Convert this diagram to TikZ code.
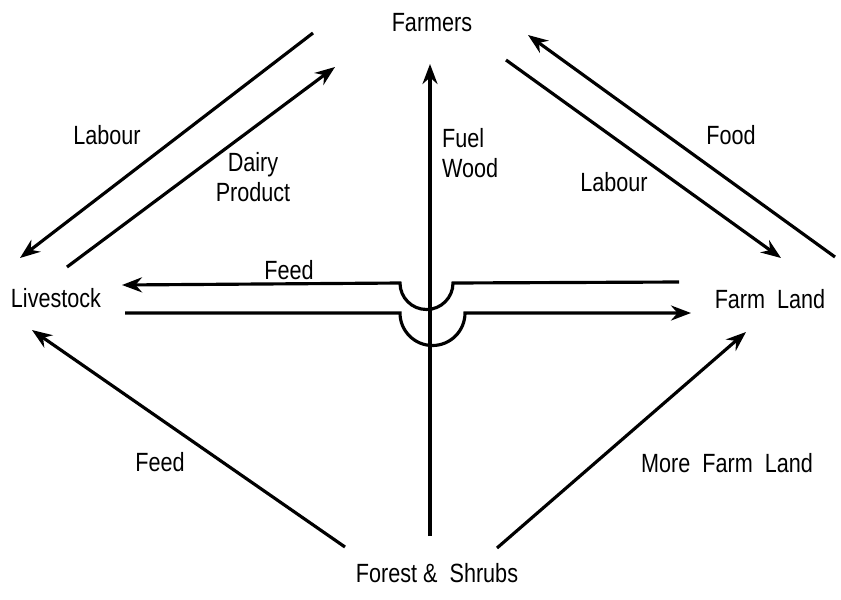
\documentclass[tikz,border=0pt]{standalone}
\usepackage{fontspec}
\setmainfont{Liberation Sans}
\newfontfamily\plotfont[FakeStretch=0.82]{Liberation Sans}
\usetikzlibrary{arrows.meta, positioning}
\tikzstyle{place} = [font=\plotfont\fontsize{15}{17}\selectfont, inner sep=1pt]
\tikzstyle{flowlabel} = [font=\plotfont\fontsize{15}{17}\selectfont, inner sep=1pt, align=center]
\tikzstyle{arrow} = [line width=1.8pt, -{Stealth[length=4mm, width=3mm]}]

\begin{document}
\begin{tikzpicture}[x=0.02cm, y=-0.02cm]
        \useasboundingbox (0,0) rectangle (841,599);

        % places
        \node[place] (farmers) at (432,23) {Farmers};
        \node[place] (livestock) at (56,298) {Livestock};
        \node[place] (farmland) at (770,299) {Farm\ \ Land};
        \node[place] (forest) at (437,573) {Forest \& \ Shrubs};

        % end points of the flows
        \coordinate (labLs) at (313,33);
        \coordinate (labLe) at (20,258);
        \coordinate (dairyS) at (67,267);
        \coordinate (dairyE) at (335,67);
        \coordinate (fuelS) at (430,536);
        \coordinate (fuelE) at (430,64);
        \coordinate (labRs) at (506,60);
        \coordinate (labRe) at (781,258);
        \coordinate (foodS) at (835,257);
        \coordinate (foodE) at (528,35);
        \coordinate (feedTs) at (679,282);
        \coordinate (feedTe) at (122,285);
        \coordinate (feedBs) at (125,313);
        \coordinate (feedBe) at (691,313);
        \coordinate (feedLs) at (345,547);
        \coordinate (feedLe) at (32,330);
        \coordinate (moreS) at (497,548);
        \coordinate (moreE) at (746,332);

        \draw[arrow] (labLs) -- (labLe);
        \draw[arrow] (dairyS) -- (dairyE);
        \draw[arrow] (fuelS) -- (fuelE);
        \draw[arrow] (labRs) -- (labRe);
        \draw[arrow] (foodS) -- (foodE);
        \draw[arrow] (feedTs) -- (453,283) arc (0:180:26.5) -- (feedTe);
        \draw[arrow] (feedBs) -- (400,313) arc (180:0:32.5) -- (feedBe);
        \draw[arrow] (feedLs) -- (feedLe);
        \draw[arrow] (moreS) -- (moreE);

        % flow labels
        \node[flowlabel] (labourL) at (107,135) {Labour};
        \node[flowlabel] (dairy) at (253,177) {Dairy\\Product};
        \node[flowlabel, align=left, anchor=west] (fuel) at (440,153) {Fuel\\Wood};
        \node[flowlabel] (labourR) at (614,182) {Labour};
        \node[flowlabel] (food) at (731,135) {Food};
        \node[flowlabel] (feedT) at (289,270) {Feed};
        \node[flowlabel] (feedL) at (160,462) {Feed};
        \node[flowlabel] (more) at (727,463) {More\ \ Farm\ \ Land};
    \end{tikzpicture}
\end{document}
